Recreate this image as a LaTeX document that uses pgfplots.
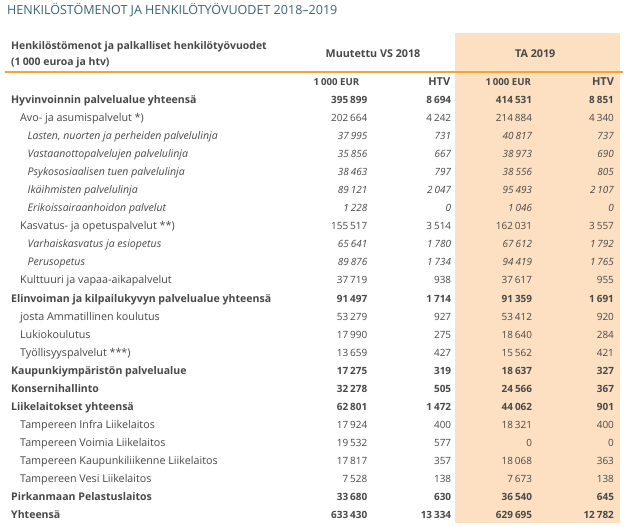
\documentclass[border=0pt]{standalone}
\usepackage{pgfplots}
\usepackage{pgfplotstable}
\pgfplotsset{compat=1.18}
\usepackage{fontspec}
\setmainfont{Open Sans}
\definecolor{txt}{HTML}{484848}
\definecolor{ttl}{HTML}{3E6474}
\definecolor{peach}{HTML}{FDE0C1}
\definecolor{rulec}{HTML}{F5A631}

\pgfplotstableread[col sep=semicolon]{
r;label;a;b;c;d
0;Hyvinvoinnin palvelualue yhteensä;395899;8694;414531;8851
11;Elinvoiman ja kilpailukyvyn palvelualue yhteensä;91497;1714;91359;1691
15;Kaupunkiympäristön palvelualue;17275;319;18637;327
16;Konsernihallinto;32278;505;24566;367
17;Liikelaitokset yhteensä;62801;1472;44062;901
22;Pirkanmaan Pelastuslaitos;33680;630;36540;645
23;Yhteensä;633430;13334;629695;12782
}\boldrows

\pgfplotstableread[col sep=semicolon]{
r;label;a;b;c;d
1;Avo- ja asumispalvelut *);202664;4242;214884;4340
7;Kasvatus- ja opetuspalvelut **);155517;3514;162031;3557
10;Kulttuuri ja vapaa-aikapalvelut;37719;938;37617;955
12;josta Ammatillinen koulutus;53279;927;53412;920
13;Lukiokoulutus;17990;275;18640;284
14;Työllisyyspalvelut ***);13659;427;15562;421
18;Tampereen Infra Liikelaitos;17924;400;18321;400
19;Tampereen Voimia Liikelaitos;19532;577;0;0
20;Tampereen Kaupunkiliikenne Liikelaitos;17817;357;18068;363
21;Tampereen Vesi Liikelaitos;7528;138;7673;138
}\regrows

\pgfplotstableread[col sep=semicolon]{
r;label;a;b;c;d
2;Lasten, nuorten ja perheiden palvelulinja;37995;731;40817;737
3;Vastaanottopalvelujen palvelulinja;35856;667;38973;690
4;Psykososiaalisen tuen palvelulinja;38463;797;38556;805
5;Ikäihmisten palvelulinja;89121;2047;95493;2107
6;Erikoissairaanhoidon palvelut;1228;0;1046;0
8;Varhaiskasvatus ja esiopetus;65641;1780;67612;1792
9;Perusopetus;89876;1734;94419;1765
}\itrows

\newcommand\numfont{\fontsize{10}{12}\selectfont}

\pgfplotsset{
  lbl/.style={draw=none, mark=none, point meta=explicit symbolic,
    nodes near coords={\pgfplotspointmeta},
    every node near coord/.append style={anchor=base west, inner sep=0pt, text=txt}},
  num/.style={draw=none, mark=none, point meta=explicit,
    nodes near coords={\pgfmathprintnumber[fixed, precision=0, 1000 sep={\hspace{0.2em}}, assume math mode=true]{\pgfplotspointmeta}},
    every node near coord/.append style={anchor=base east, inner sep=0pt, text=txt}},
}

\newcommand\rowset[4]{%
  \addplot[lbl, every node near coord/.append style={font=\fontsize{#4}{12}\selectfont#2}] table[x expr=#3, y expr=104+18.04*\thisrow{r}, meta=label]{#1};
  \addplot[num, every node near coord/.append style={font=\numfont#2}] table[x expr=368, y expr=104+18.04*\thisrow{r}, meta=a]{#1};
  \addplot[num, every node near coord/.append style={font=\numfont#2}] table[x expr=452, y expr=104+18.04*\thisrow{r}, meta=b]{#1};
  \addplot[num, every node near coord/.append style={font=\numfont#2}] table[x expr=533, y expr=104+18.04*\thisrow{r}, meta=c]{#1};
  \addplot[num, every node near coord/.append style={font=\numfont#2}] table[x expr=615, y expr=104+18.04*\thisrow{r}, meta=d]{#1};
}

\begin{document}
\begin{tikzpicture}
\begin{axis}[scale only axis, width=624bp, height=527bp,
  xmin=0, xmax=624, ymin=0, ymax=527, y dir=reverse,
  hide axis, clip=false]
  \fill[white] (axis cs:0,0) rectangle (axis cs:624,527);
  \fill[peach] (axis cs:456,33) rectangle (axis cs:621,523.5);
  \draw[rulec, line width=1.8bp] (axis cs:5,72.5) -- (axis cs:624,72.5);
  \node[anchor=base west, inner sep=0pt, text=ttl, font=\fontsize{12.6}{14}\selectfont] at (axis cs:7,14.5) {HENKILÖSTÖMENOT JA HENKILÖTYÖVUODET 2018–2019};
  \node[anchor=base west, inner sep=0pt, text=txt, font=\fontsize{10.5}{12}\selectfont\bfseries] at (axis cs:11,49.5) {Henkilöstömenot ja palkalliset henkilötyövuodet};
  \node[anchor=base west, inner sep=0pt, text=txt, font=\fontsize{10.5}{12}\selectfont\bfseries] at (axis cs:11,66) {(1\hspace{0.2em}000 euroa ja htv)};
  \node[anchor=base, inner sep=0pt, text=txt, font=\fontsize{10.8}{12}\selectfont\bfseries] at (axis cs:373.5,57.5) {Muutettu VS 2018};
  \node[anchor=base, inner sep=0pt, text=txt, font=\fontsize{10.8}{12}\selectfont\bfseries] at (axis cs:536,57.5) {TA 2019};
  \node[anchor=base east, inner sep=0pt, text=txt, font=\fontsize{9.7}{12}\selectfont\bfseries] at (axis cs:360,86) {1\hspace{0.2em}000 EUR};
  \node[anchor=base east, inner sep=0pt, text=txt, font=\fontsize{11}{12}\selectfont\bfseries] at (axis cs:451,86) {HTV};
  \node[anchor=base east, inner sep=0pt, text=txt, font=\fontsize{9.7}{12}\selectfont\bfseries] at (axis cs:532,86) {1\hspace{0.2em}000 EUR};
  \node[anchor=base east, inner sep=0pt, text=txt, font=\fontsize{11}{12}\selectfont\bfseries] at (axis cs:615,86) {HTV};
  \rowset{\boldrows}{\bfseries}{11}{10.6}
  \rowset{\regrows}{}{20}{10.8}
  \rowset{\itrows}{\itshape}{27.5}{10.6}
\end{axis}
\end{tikzpicture}
\end{document}
